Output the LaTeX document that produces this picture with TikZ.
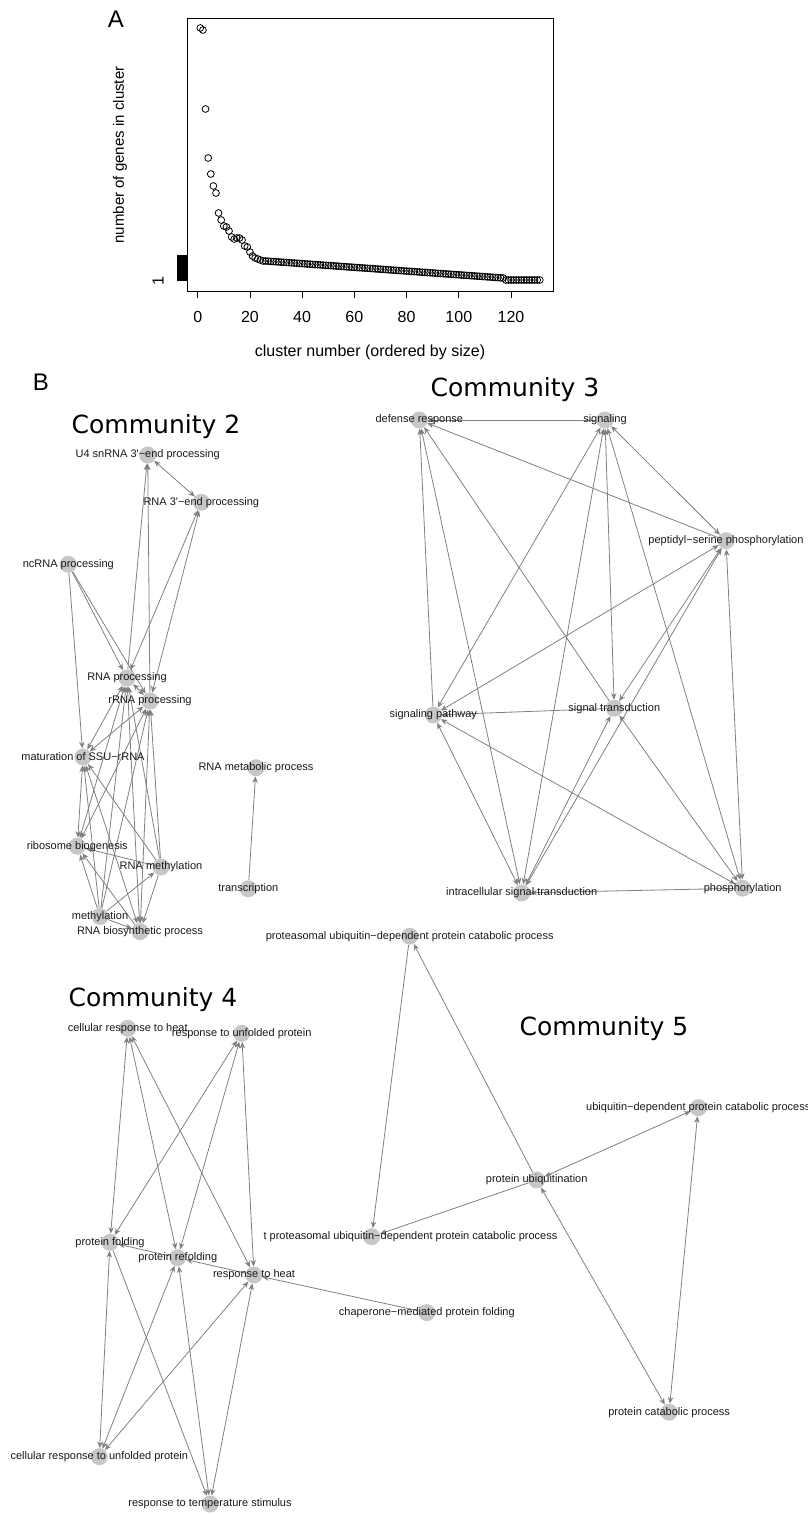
\documentclass[tikz,border=0pt]{standalone}
\usepackage{fontspec}
\newfontfamily\lbfont{Liberation Sans}
\newfontfamily\ttlfont{DejaVu Sans}
\usetikzlibrary{arrows.meta,backgrounds}

\begin{document}
\begin{tikzpicture}[
  x=1pt, y=-1pt,
  vx/.style={circle, fill=black!22, minimum size=17pt, inner sep=0pt},
  lbl/.style={font=\lbfont\fontsize{11}{13}\selectfont, inner sep=0pt, text=black!90},
  title/.style={font=\ttlfont\fontsize{25}{30}\selectfont, inner sep=0pt, anchor=base},
  panel/.style={font=\lbfont\fontsize{24}{28}\selectfont, inner sep=0pt},
  axis/.style={font=\lbfont\fontsize{16}{19}\selectfont, inner sep=0pt},
  pt/.style={line width=0.8pt},
  arrow/.style={draw=black!50, line width=0.8pt, -{Stealth[length=6.5pt,width=5.5pt]}},
  both/.style={arrow, {Stealth[length=6.5pt,width=5.5pt]}-{Stealth[length=6.5pt,width=5.5pt]}}
]
\useasboundingbox (0,0) rectangle (807,1514);

% panel A
\node[panel] (labA) at (116,19) {A};
\draw[line width=0.8pt] (187.5,18.5) rectangle (553,291);
\foreach \t in {0,20,...,120} {
  \draw[line width=0.8pt] (197.7+2.611*\t,291) -- (197.7+2.611*\t,298);
  \node[axis] (tick\t) at (197.7+2.611*\t,317) {\t};
}
\fill (177,255) rectangle (188,281);
\node[axis, rotate=90] (yone) at (158,281) {1};
\node[axis, rotate=90, font=\lbfont\fontsize{15}{18}\selectfont] (ylab) at (120,155) {number of genes in cluster};
\node[axis] (xlab) at (370,352) {cluster number (ordered by size)};
\foreach \i/\v in {1/28,2/30,3/109,4/158,5/174,6/186,7/193,8/213,9/220,10/226,11/227,12/231,
  13/237,14/239,15/238,16/238,17/240,18/246,19/247,20/252,21/256,22/258,23/259,24/260,25/261}
  \draw[pt] (197.7+2.611*\i,\v) circle[radius=3.4pt];
\foreach \i in {26,...,117}
  \draw[pt] (197.7+2.611*\i,261+0.1868*\i-4.857) circle[radius=3.4pt];
\foreach \i in {118,...,131}
  \draw[pt] (197.7+2.611*\i,280) circle[radius=3.4pt];

% panel B
\node[panel] (labB) at (41,382) {B};

\node[title] (t2) at (156,433) {Community 2};
\node[vx, label={[lbl]center:U4 snRNA 3'−end processing}] (u4) at (147.7,455) {};
\node[vx, label={[lbl]center:RNA 3'−end processing}] (rna3) at (201.3,502.3) {};
\node[vx, label={[lbl]center:ncRNA processing}] (ncrna) at (68.3,564.3) {};
\node[vx, label={[lbl]center:RNA processing}] (rnaproc) at (127,678) {};
\node[vx, label={[lbl]center:rRNA processing}] (rrna) at (150,701) {};
\node[vx, label={[lbl]center:maturation of SSU−rRNA}] (ssu) at (83,757) {};
\node[vx, label={[lbl]center:RNA metabolic process}] (rnamet) at (256,767.7) {};
\node[vx, label={[lbl]center:ribosome biogenesis}] (ribo) at (77.3,846.3) {};
\node[vx, label={[lbl]center:RNA methylation}] (rnameth) at (161,867) {};
\node[vx, label={[lbl]center:transcription}] (transc) at (248.3,888.8) {};
\node[vx, label={[lbl]center:methylation}] (meth) at (100,916.5) {};
\node[vx, label={[lbl]center:RNA biosynthetic process}] (rnabio) at (140,931.6) {};

\node[title] (t3) at (515,396) {Community 3};
\node[vx, label={[lbl]center:defense response}] (defense) at (419.3,420) {};
\node[vx, label={[lbl]center:signaling}] (signaling) at (605,420) {};
\node[vx, label={[lbl]center:peptidyl−serine phosphorylation}] (peptidyl) at (726,540.7) {};
\node[vx, label={[lbl]center:signaling pathway}] (sigpath) at (433.3,715) {};
\node[vx, label={[lbl]center:signal transduction}] (sigtrans) at (614.3,708.3) {};
\node[vx, label={[lbl]center:intracellular signal transduction}] (intracell) at (521.7,892.9) {};
\node[vx, label={[lbl]center:phosphorylation}] (phos) at (742.7,888.2) {};

\node[title] (t4) at (153,1006.7) {Community 4};
\node[vx, label={[lbl]center:cellular response to heat}] (cellheat) at (127.7,1028.3) {};
\node[vx, label={[lbl]center:response to unfolded protein}] (unfolded) at (241.7,1033.3) {};
\node[vx, label={[lbl]center:protein folding}] (pfold) at (110,1242.3) {};
\node[vx, label={[lbl]center:protein refolding}] (prefold) at (177.7,1257.7) {};
\node[vx, label={[lbl]center:response to heat}] (rheat) at (254,1275) {};
\node[vx, label={[lbl]center:cellular response to unfolded protein}] (cellunf) at (99.3,1456.7) {};
\node[vx, label={[lbl]center:response to temperature stimulus}] (tempstim) at (210,1504) {};

\node[title] (t5) at (604,1035) {Community 5};
\node[vx, label={[lbl]center:proteasomal ubiquitin−dependent protein catabolic process}] (proteasomal) at (409.7,936.2) {};
\node[vx, label={[lbl]center:ubiquitin−dependent protein catabolic process}] (ubiqdep) at (698.3,1107.7) {};
\node[vx, label={[lbl]center:protein ubiquitination}] (protubiq) at (536.7,1180) {};
\node[vx, label={[lbl,xshift=38.8pt]center:t proteasomal ubiquitin−dependent protein catabolic process}] (tprot) at (371.7,1236.7) {};
\node[vx, label={[lbl]center:chaperone−mediated protein folding}] (chaperone) at (426.8,1312.6) {};
\node[vx, label={[lbl]center:protein catabolic process}] (protcat) at (669.1,1412.2) {};

\begin{scope}[on background layer]
\draw[both] (u4) -- (rna3);
\draw[arrow] (rnaproc) -- (u4);
\draw[arrow] (rrna) -- (u4);
\draw[both] (rna3) -- (rnaproc);
\draw[both] (rna3) -- (rrna);
\draw[arrow] (ncrna) -- (rnaproc);
\draw[arrow] (ncrna) -- (rrna);
\draw[arrow] (ncrna) -- (ssu);
\draw[both] (rnaproc) -- (rrna);
\draw[both] (rnaproc) -- (ssu);
\draw[both] (rrna) -- (ssu);
\draw[both] (rnaproc) -- (ribo);
\draw[both] (rrna) -- (ribo);
\draw[both] (ssu) -- (ribo);
\draw[arrow] (rnameth) -- (ssu);
\draw[arrow] (rnameth) -- (rnaproc);
\draw[arrow] (rnameth) -- (rrna);
\draw[arrow] (rnameth) -- (ribo);
\draw[arrow] (meth) -- (ribo);
\draw[arrow] (meth) -- (ssu);
\draw[arrow] (meth) -- (rnaproc);
\draw[arrow] (meth) -- (rrna);
\draw[arrow] (meth) -- (rnameth);
\draw[arrow] (meth) -- (rnabio);
\draw[both] (rnaproc) -- (rnabio);
\draw[both] (rrna) -- (rnabio);
\draw[both] (ssu) -- (rnabio);
\draw[arrow] (rnameth) -- (rnabio);
\draw[arrow] (rnabio) -- (ribo);
\draw[arrow] (transc) -- (rnamet);

\draw[arrow] (signaling) -- (defense);
\draw[arrow] (peptidyl) -- (defense);
\draw[arrow] (sigtrans) -- (defense);
\draw[arrow] (sigpath) -- (defense);
\draw[both] (intracell) -- (defense);
\draw[both] (signaling) -- (sigpath);
\draw[both] (signaling) -- (intracell);
\draw[both] (signaling) -- (sigtrans);
\draw[both] (signaling) -- (peptidyl);
\draw[both] (signaling) -- (phos);
\draw[both] (peptidyl) -- (sigpath);
\draw[both] (peptidyl) -- (sigtrans);
\draw[both] (peptidyl) -- (intracell);
\draw[both] (peptidyl) -- (phos);
\draw[arrow] (sigtrans) -- (sigpath);
\draw[both] (sigtrans) -- (intracell);
\draw[both] (sigtrans) -- (phos);
\draw[both] (sigpath) -- (intracell);
\draw[both] (sigpath) -- (phos);
\draw[arrow] (phos) -- (intracell);

\draw[both] (cellheat) -- (pfold);
\draw[both] (cellheat) -- (prefold);
\draw[both] (cellheat) -- (rheat);
\draw[both] (unfolded) -- (pfold);
\draw[both] (unfolded) -- (prefold);
\draw[both] (unfolded) -- (rheat);
\draw[arrow] (prefold) -- (pfold);
\draw[arrow] (rheat) -- (prefold);
\draw[both] (pfold) -- (cellunf);
\draw[arrow] (pfold) -- (tempstim);
\draw[both] (prefold) -- (cellunf);
\draw[both] (prefold) -- (tempstim);
\draw[both] (rheat) -- (cellunf);
\draw[both] (rheat) -- (tempstim);
\draw[arrow] (chaperone) -- (rheat);

\draw[arrow] (protubiq) -- (proteasomal);
\draw[arrow] (proteasomal) -- (tprot);
\draw[arrow] (protubiq) -- (tprot);
\draw[both] (protubiq) -- (ubiqdep);
\draw[both] (protubiq) -- (protcat);
\draw[both] (ubiqdep) -- (protcat);
\end{scope}
\end{tikzpicture}
\end{document}
